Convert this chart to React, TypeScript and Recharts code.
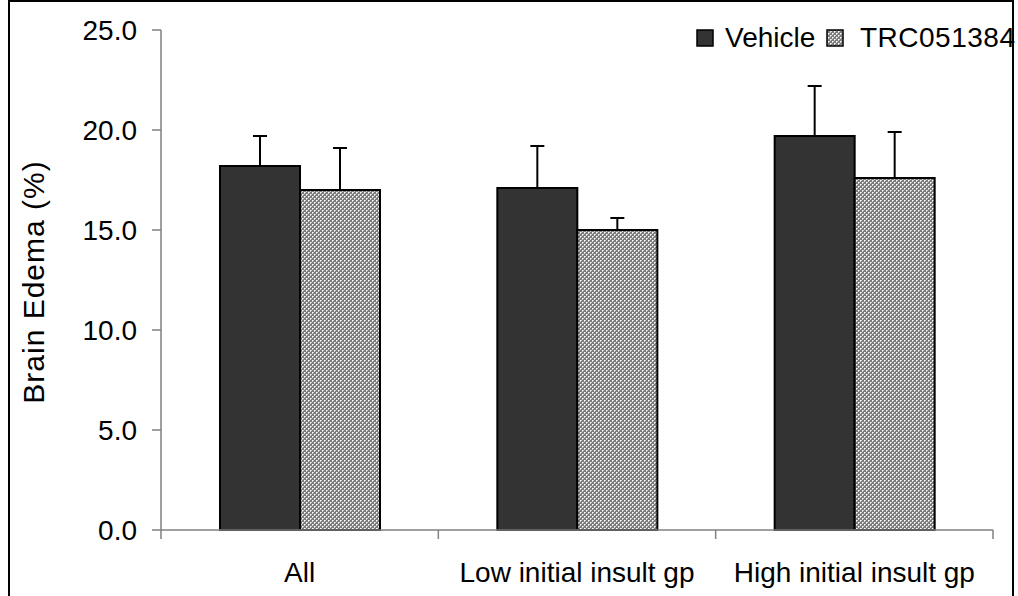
import React from 'react'
import { BarChart, Bar, XAxis, YAxis, ErrorBar, Legend } from 'recharts'

const categories = ['All', 'Low initial insult gp', 'High initial insult gp']
const vehicle = [18.2, 17.1, 19.7]
const vehicleErr = [1.5, 2.1, 2.5]
const trc = [17.0, 15.0, 17.6]
const trcErr = [2.1, 0.6, 2.3]
const yTicks = [0, 5, 10, 15, 20, 25]
const seriesNames = ['Vehicle', 'TRC051384']

// upward-only error bars: [lower, upper]
const data = categories.map((name, i) => ({
  name,
  vehicle: vehicle[i],
  vehicleErr: [0, vehicleErr[i]],
  trc: trc[i],
  trcErr: [0, trcErr[i]],
}))

const W = 1018
const H = 596
const M = { top: 30, right: 25, left: 0, bottom: 26 }
const Y_W = 161
const BAND = (W - M.right - Y_W) / categories.length
const FONT = '"Liberation Sans", Arial, sans-serif'
const AXIS = '#808080'

const XTick = (props: any) => {
  const { x, y, payload, index } = props
  return (
    <g>
      <line x1={x - BAND / 2} x2={x - BAND / 2} y1={y} y2={y + 9} stroke={AXIS} strokeWidth={1.5} />
      {index === categories.length - 1 && (
        <line x1={x + BAND / 2} x2={x + BAND / 2} y1={y} y2={y + 9} stroke={AXIS} strokeWidth={1.5} />
      )}
      <text x={x} y={y + 52} textAnchor="middle" fontSize={28} fontFamily={FONT} fill="#000">
        {payload.value}
      </text>
    </g>
  )
}

const PatternDef = ({ id }: { id: string }) => (
  <pattern id={id} width={4} height={4} patternUnits="userSpaceOnUse">
    <rect width={4} height={4} fill="#7c7c7c" />
    <rect x={0} y={0} width={1} height={1} fill="#ffffff" />
    <rect x={2} y={2} width={1} height={1} fill="#ffffff" />
    <rect x={1} y={0} width={1} height={1} fill="#cfcfcf" />
    <rect x={0} y={1} width={1} height={1} fill="#cfcfcf" />
    <rect x={3} y={2} width={1} height={1} fill="#cfcfcf" />
    <rect x={2} y={3} width={1} height={1} fill="#cfcfcf" />
  </pattern>
)

const LegendBox = () => (
  <svg width={330} height={40} style={{ display: 'block' }}>
    <defs>
      <PatternDef id="legendHatch" />
    </defs>
    <rect x={7} y={15} width={16} height={16} fill="#333" stroke="#000" strokeWidth={1.5} />
    <text x={35} y={32} fontSize={28} fontFamily={FONT} fill="#000">{seriesNames[0]}</text>
    <rect x={137} y={15} width={16} height={16} fill="url(#legendHatch)" stroke="#000" strokeWidth={1.5} />
    <text x={170} y={32} fontSize={28} letterSpacing={0.5} fontFamily={FONT} fill="#000">{seriesNames[1]}</text>
  </svg>
)

const YLabel = (props: any) => {
  const vb = props.viewBox
  const cx = vb.x + 33
  const cy = vb.y + vb.height / 2 + 2
  return (
    <text x={cx} y={cy} transform={`rotate(-90 ${cx} ${cy})`} textAnchor="middle" dominantBaseline="central"
      fontSize={30} letterSpacing={1} fontFamily={FONT} fill="#000">
      Brain Edema (%)
    </text>
  )
}

export default function App() {
  return (
    <div style={{ position: 'absolute', left: 0, top: 0, width: W, height: H, background: '#fff', overflow: 'hidden' }}>
      <BarChart width={W} height={H} data={data} margin={M} barGap={0} barSize={80}>
        <defs>
          <PatternDef id="trcHatch" />
        </defs>
        <XAxis dataKey="name" height={40} tick={<XTick />} tickLine={false} tickSize={0} tickMargin={0}
          axisLine={{ stroke: AXIS, strokeWidth: 1.5 }} interval={0} />
        <YAxis width={Y_W} domain={[0, 25]} ticks={yTicks} tickFormatter={(v: number) => v.toFixed(1)}
          tickSize={9} tickMargin={15} axisLine={{ stroke: AXIS, strokeWidth: 1.5 }}
          tickLine={{ stroke: AXIS, strokeWidth: 1.5 }}
          tick={{ fill: '#000', fontSize: 28, fontFamily: FONT }}
          label={{ content: <YLabel /> }} />
        <Legend layout="horizontal" verticalAlign="middle" align="center"
          wrapperStyle={{ top: 15, left: 690, width: 330 }} content={<LegendBox />} />
        <Bar dataKey="vehicle" name={seriesNames[0]} fill="#333333" stroke="#000" strokeWidth={2} isAnimationActive={false}>
          <ErrorBar dataKey="vehicleErr" width={7} stroke="#000" strokeWidth={2} direction="y" />
        </Bar>
        <Bar dataKey="trc" name={seriesNames[1]} fill="url(#trcHatch)" stroke="#000" strokeWidth={2} isAnimationActive={false}>
          <ErrorBar dataKey="trcErr" width={7} stroke="#000" strokeWidth={2} direction="y" />
        </Bar>
      </BarChart>
      <div style={{ position: 'absolute', left: 8, top: 0, width: 1006, height: 620, border: '2px solid #000',
        boxSizing: 'border-box', pointerEvents: 'none' }} />
    </div>
  )
}
